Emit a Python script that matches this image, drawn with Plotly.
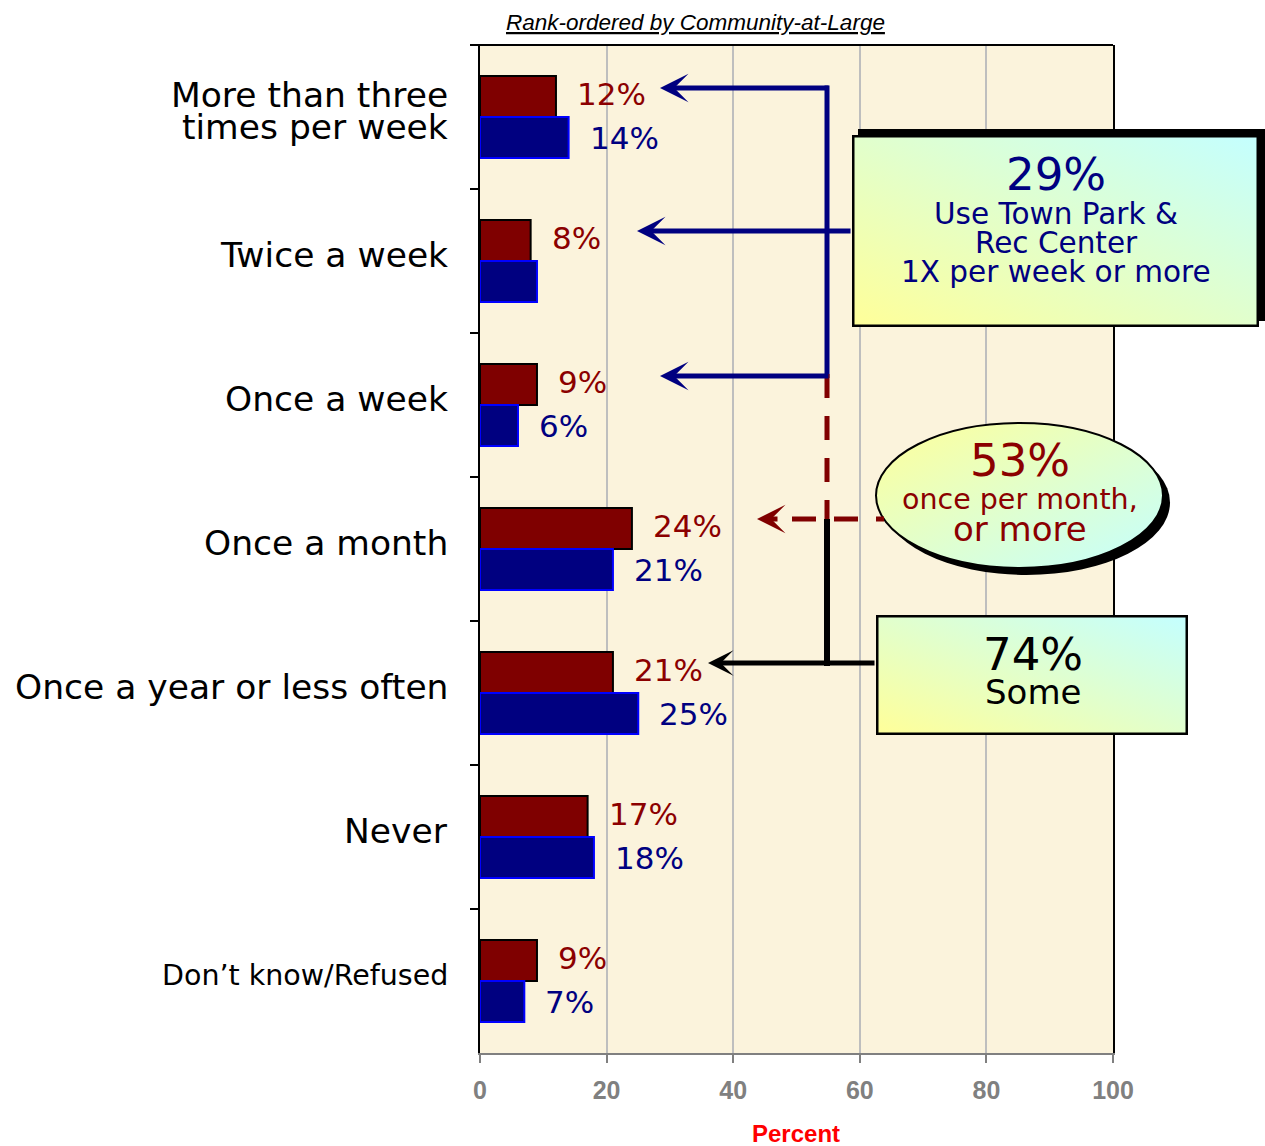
import base64
import plotly.graph_objects as go

categories = ["More than three times per week", "Twice a week", "Once a week",
              "Once a month", "Once a year or less often", "Never", "Don’t know/Refused"]
category_lines = [["More than three", "times per week"], ["Twice a week"], ["Once a week"],
                  ["Once a month"], ["Once a year or less often"], ["Never"], ["Don’t know/Refused"]]
community = [12, 8, 9, 24, 21, 17, 9]
comparison = [14, 9, 6, 21, 25, 18, 7]
comparison_labelled = [True, False, True, True, True, True, True]
x_ticks = [0, 20, 40, 60, 80, 100]

RED = "#7F0000"
NAVY = "#000080"
VERDANA = "DejaVu Sans"
ARIAL = "Liberation Sans"

# plot area in page pixels, used to place the callouts
L, R, T, B = 480, 1113, 45, 1053
def px(x): return (x - L) / (R - L)
def py(y): return (B - y) / (B - T)

fig = go.Figure()
fig.add_trace(go.Bar(y=categories, x=community, orientation="h", name="Community-at-Large",
                     marker=dict(color=RED, line=dict(color="black", width=2))))
fig.add_trace(go.Bar(y=categories, x=comparison, orientation="h", name="Comparison",
                     marker=dict(color=NAVY, line=dict(color="#0000FF", width=2))))

ann = []
# category labels
for cat, lines in zip(categories, category_lines):
    size = 28.5 if cat.startswith("Don") else 34.5
    n = len(lines)
    for i, line in enumerate(lines):
        ann.append(dict(x=px(450), xref="paper", y=cat, yref="y", text=line, showarrow=False,
                        xanchor="right", yanchor="middle", yshift=6 + ((n - 1) / 2 - i) * 32,
                        font=dict(family=VERDANA, size=size, color="black")))
# value labels
for cat, v in zip(categories, community):
    ann.append(dict(x=v, y=cat, xref="x", yref="y", text=f"{v}%", showarrow=False,
                    xanchor="left", yanchor="middle", xshift=19, yshift=23,
                    font=dict(family=VERDANA, size=31, color="#8B0000")))
for cat, v, show in zip(categories, comparison, comparison_labelled):
    if show:
        ann.append(dict(x=v, y=cat, xref="x", yref="y", text=f"{v}%", showarrow=False,
                        xanchor="left", yanchor="middle", xshift=19, yshift=-21,
                        font=dict(family=VERDANA, size=31, color=NAVY)))

# title and axis title
ann.append(dict(x=px(695), y=py(22), xref="paper", yref="paper", showarrow=False,
                xanchor="center", yanchor="middle",
                text="<i><u>Rank-ordered by Community-at-Large</u></i>",
                font=dict(family=ARIAL, size=22.5, color="black")))
ann.append(dict(x=px(796), y=py(1133), xref="paper", yref="paper", showarrow=False,
                xanchor="center", yanchor="middle",
                text="<b>Percent</b>", font=dict(family=ARIAL, size=24, color="#FF0000")))

# callout texts
def txt(x, y, s, size, color):
    ann.append(dict(x=px(x), y=py(y), xref="paper", yref="paper", showarrow=False, text=s,
                    xanchor="center", yanchor="middle",
                    font=dict(family=VERDANA, size=size, color=color)))

txt(1056, 174, "29%", 45, NAVY)
txt(1056, 214, "Use Town Park &", 29.5, NAVY)
txt(1056, 243, "Rec Center", 29.5, NAVY)
txt(1056, 272, "1X per week or more", 29.5, NAVY)
txt(1020, 460, "53%", 45, "#8B0000")
txt(1020, 500, "once per month,", 28.5, "#8B0000")
txt(1020, 529, "or more", 34, "#8B0000")
txt(1033, 654, "74%", 45, "black")
txt(1033, 692, "Some", 34, "black")

# arrows
def arrow(tipx, tipy, tail, color, width=5, size=0.95):
    ann.append(dict(x=px(tipx), y=py(tipy), xref="paper", yref="paper", text="", showarrow=True,
                    ax=tail, ay=0, arrowhead=3, arrowsize=size, arrowwidth=width,
                    arrowcolor=color, standoff=0, startstandoff=0))

arrow(660, 88, 170, NAVY)
arrow(637, 231, 215, NAVY)
arrow(660, 376, 170, NAVY)
arrow(757, 519, 22, "#800000")
arrow(708, 663, 168, "black", size=0.85)

def seg(x0, y0, x1, y1, color, width=5, dash="solid"):
    return dict(type="line", xref="paper", yref="paper", x0=px(x0), y0=py(y0), x1=px(x1), y1=py(y1),
                line=dict(color=color, width=width, dash=dash))

shapes = [
    seg(475, 45, 1113, 45, "black", 2),
    seg(827, 85.5, 827, 378, NAVY),
    seg(827, 374, 827, 519, "#800000", 5, "24px,18px"),
    seg(792, 519, 884, 519, "#800000", 5, "24px,18px"),
    seg(827, 519, 827, 666, "black", 6),
]

# gradient boxes as inline svg
def svg_uri(body, w, h):
    svg = (f"<svg xmlns='http://www.w3.org/2000/svg' width='{w}' height='{h}' "
           f"viewBox='0 0 {w} {h}' preserveAspectRatio='none'>{body}</svg>")
    return "data:image/svg+xml;base64," + base64.b64encode(svg.encode()).decode()

def grad(x1, y1, x2, y2):
    return (f"<defs><linearGradient id='g' x1='{x1}' y1='{y1}' x2='{x2}' y2='{y2}'>"
            "<stop offset='0' stop-color='#FFFF99'/><stop offset='1' stop-color='#C4FFFF'/>"
            "</linearGradient></defs>")

box1 = grad(0, 1, 1, 0) + (
    "<rect x='6' y='0' width='407' height='192' fill='black'/>"
    "<rect x='1.25' y='7.25' width='404.5' height='189.5' fill='url(#g)' stroke='black' stroke-width='2.5'/>")
oval = grad(0, 0, 1, 1) + (
    "<ellipse cx='154.5' cy='83.5' rx='143.5' ry='72.5' fill='black'/>"
    "<ellipse cx='147.5' cy='76.5' rx='143.5' ry='72.5' fill='url(#g)' stroke='black' stroke-width='2'/>")
box3 = grad(0, 1, 1, 0) + (
    "<rect x='1.25' y='1.25' width='309.5' height='117.5' fill='url(#g)' stroke='black' stroke-width='2.5'/>")

def img(body, left, top, w, h):
    return dict(source=svg_uri(body, w, h), xref="paper", yref="paper", x=px(left), y=py(top),
                sizex=w / (R - L), sizey=h / (B - T), xanchor="left", yanchor="top",
                sizing="stretch", layer="above")

images = [img(box1, 852, 129, 413, 198), img(oval, 872, 419, 305, 160), img(box3, 876, 615, 312, 120)]

W, H = 1265, 1146
fig.update_layout(
    width=W, height=H,
    margin=dict(l=L, r=W - R, t=T, b=H - B),
    barmode="group", bargap=0.43, bargroupgap=0,
    showlegend=False,
    plot_bgcolor="#FBF3DC", paper_bgcolor="white",
    annotations=ann, shapes=shapes, images=images,
    xaxis=dict(range=[0, 100], tickvals=x_ticks, showgrid=True, gridcolor="#BEBEBE", gridwidth=2,
               zeroline=False, showline=True, linecolor="#808080", linewidth=2,
               ticks="outside", ticklen=8, tickwidth=2, tickcolor="#808080", ticklabelstandoff=6,
               tickfont=dict(family=ARIAL, size=25, color="#808080", weight="bold")),
    yaxis=dict(categoryorder="array", categoryarray=categories, autorange="reversed",
               showline=True, mirror=True, linecolor="black", linewidth=2, showgrid=False,
               ticks="outside", ticklen=8, tickwidth=2, tickcolor="black", tickson="boundaries",
               showticklabels=False),
)

# drop the page's default body margin so the figure fills the window exactly
fig.write_html("out.html", config={"displayModeBar": False},
               post_script="document.body.style.margin='0';document.body.style.overflow='hidden';")
